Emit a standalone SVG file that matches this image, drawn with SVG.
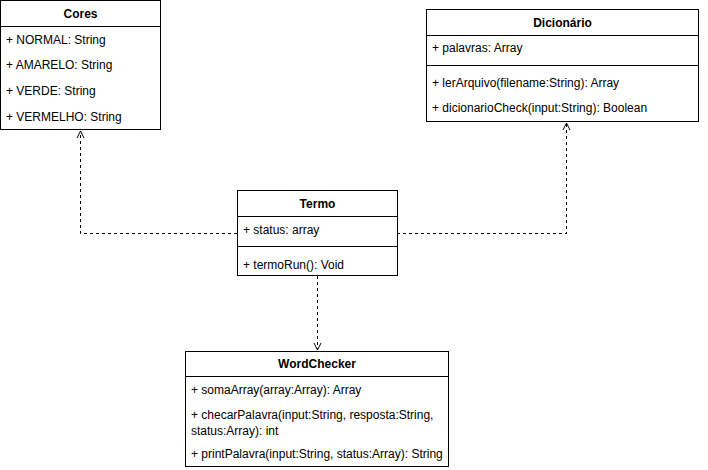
<svg xmlns="http://www.w3.org/2000/svg" width="708" height="470" viewBox="0 0 708 470">
<defs>
<style>
.box{fill:#fff;stroke:#000;stroke-width:1}
.ln{stroke:#000;stroke-width:1}
.t{font-family:"Liberation Sans",Arial,sans-serif;font-size:12px;fill:#000}
.h{font-weight:bold;text-anchor:middle}
.c{fill:none;stroke:#000;stroke-width:1;stroke-dasharray:3 3}
</style>
<marker id="open" viewBox="0 0 10 10" refX="8" refY="5" markerWidth="10" markerHeight="10" markerUnits="userSpaceOnUse" orient="auto">
<path d="M1,1.5 L8,5 L1,8.5" fill="none" stroke="#000" stroke-width="1"/>
</marker>
</defs>
<rect width="708" height="470" fill="#fff"/>
<g id="connectors">
<path class="c" d="M237,233.5 H80.5 V131" marker-end="url(#open)"/>
<path class="c" d="M397,233.5 H566.5 V123" marker-end="url(#open)"/>
<path class="c" d="M317.5,276 V350" marker-end="url(#open)"/>
</g>
<g id="cores">
<rect class="box" x="0.5" y="0.5" width="160" height="129"/>
<line class="ln" x1="0.5" y1="26.5" x2="160.5" y2="26.5"/>
<text class="t h" x="80.5" y="18">Cores</text>
<text class="t" x="6" y="44">+ NORMAL: String</text>
<text class="t" x="6" y="69">+ AMARELO: String</text>
<text class="t" x="6" y="95">+ VERDE: String</text>
<text class="t" x="6" y="121">+ VERMELHO: String</text>
</g>
<g id="dicionario">
<rect class="box" x="426.5" y="9.5" width="272" height="112"/>
<line class="ln" x1="426.5" y1="35.5" x2="698.5" y2="35.5"/>
<line class="ln" x1="426.5" y1="65.5" x2="698.5" y2="65.5"/>
<text class="t h" x="562.5" y="27">Dicionário</text>
<text class="t" x="432" y="52">+ palavras: Array</text>
<text class="t" x="432" y="87">+ lerArquivo(filename:String): Array</text>
<text class="t" x="432" y="112">+ dicionarioCheck(input:String): Boolean</text>
</g>
<g id="termo">
<rect class="box" x="237.5" y="190.5" width="160" height="85"/>
<line class="ln" x1="237.5" y1="216.5" x2="397.5" y2="216.5"/>
<line class="ln" x1="237.5" y1="246.5" x2="397.5" y2="246.5"/>
<text class="t h" x="317.5" y="208">Termo</text>
<text class="t" x="243" y="234">+ status: array</text>
<text class="t" x="243" y="269">+ termoRun(): Void</text>
</g>
<g id="wordchecker">
<rect class="box" x="185.5" y="351.5" width="263" height="115"/>
<line class="ln" x1="185.5" y1="376.5" x2="448.5" y2="376.5"/>
<text class="t h" x="317" y="368">WordChecker</text>
<text class="t" x="191" y="394">+ somaArray(array:Array): Array</text>
<text class="t" x="191" y="419">+ checarPalavra(input:String, resposta:String,</text>
<text class="t" x="191" y="435">status:Array): int</text>
<text class="t" x="191" y="458">+ printPalavra(input:String, status:Array): String</text>
</g>
</svg>
